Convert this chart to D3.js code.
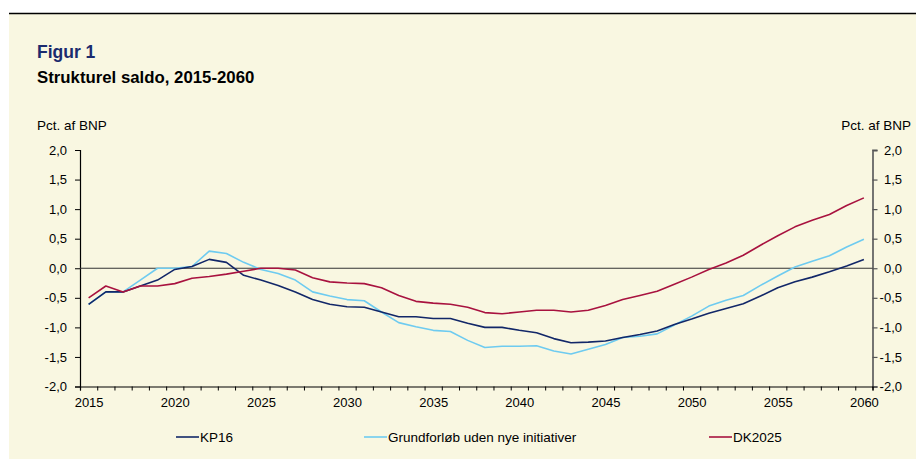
<!DOCTYPE html>
<html>
<head>
<meta charset="utf-8">
<script src="https://cdn.jsdelivr.net/npm/d3@7"></script>
<style>
  html, body { margin: 0; padding: 0; background: #ffffff; }
  svg { display: block; font-family: "Liberation Sans", Arial, sans-serif; }
</style>
</head>
<body>
<svg id="chart" width="916" height="459"></svg>
<script>
const years = d3.range(2015, 2061);
const seriesNames = ["KP16", "Grundforløb uden nye initiativer", "DK2025"];
const kp16 = [
  -0.61, -0.40, -0.40, -0.30, -0.20, -0.02, 0.03, 0.15, 0.10, -0.12,
  -0.20, -0.29, -0.40, -0.53, -0.61, -0.65, -0.66, -0.74, -0.82, -0.82,
  -0.85, -0.85, -0.93, -1.00, -1.00, -1.05, -1.09, -1.19, -1.26, -1.25,
  -1.23, -1.17, -1.12, -1.06, -0.95, -0.86, -0.76, -0.68, -0.60, -0.47,
  -0.33, -0.23, -0.15, -0.06, 0.04, 0.15
];
const grundforloeb = [
  -0.61, -0.40, -0.40, -0.20, 0.00, 0.00, 0.03, 0.29, 0.25, 0.10,
  -0.02, -0.09, -0.20, -0.40, -0.47, -0.53, -0.55, -0.74, -0.92, -0.99,
  -1.05, -1.07, -1.22, -1.34, -1.32, -1.32, -1.31, -1.40, -1.45, -1.37,
  -1.29, -1.17, -1.15, -1.11, -0.96, -0.81, -0.64, -0.54, -0.46, -0.29,
  -0.13, 0.02, 0.12, 0.21, 0.36, 0.49
];
const dk2025 = [
  -0.50, -0.30, -0.40, -0.30, -0.30, -0.26, -0.17, -0.14, -0.10, -0.05,
  0.00, 0.00, -0.03, -0.16, -0.23, -0.25, -0.26, -0.33, -0.46, -0.56,
  -0.59, -0.61, -0.66, -0.75, -0.77, -0.74, -0.71, -0.71, -0.74, -0.71,
  -0.63, -0.53, -0.46, -0.39, -0.27, -0.15, -0.02, 0.09, 0.22, 0.39,
  0.55, 0.70, 0.81, 0.91, 1.06, 1.19
];
const yTicks = [-2, -1.5, -1, -0.5, 0, 0.5, 1, 1.5, 2];
const xLabelYears = [2015, 2020, 2025, 2030, 2035, 2040, 2045, 2050, 2055, 2060];
const titleText = "Figur 1";
const subtitleText = "Strukturel saldo, 2015-2060";
const unitText = "Pct. af BNP";

const colors = ["#122768", "#6ECBF0", "#A8123F"];
const allSeries = [kp16, grundforloeb, dk2025];
const drawOrder = [1, 0, 2];

const svg = d3.select("#chart");
const W = 916, H = 459;
const plotLeft = 80, plotRight = 872.5, plotTop = 150, plotBottom = 386.5;

// background
svg.append("rect").attr("x", 0).attr("y", 0).attr("width", W).attr("height", H).attr("fill", "#ffffff");
svg.append("rect").attr("x", 9).attr("y", 14).attr("width", W - 9).attr("height", H - 14).attr("fill", "#F9F7E1");
svg.append("line").attr("x1", 9).attr("x2", W).attr("y1", 13.5).attr("y2", 13.5)
  .attr("stroke", "#000").attr("stroke-width", 1.4);

// titles
svg.append("text").attr("x", 37).attr("y", 58).text(titleText)
  .attr("font-size", 17.5).attr("font-weight", "bold").attr("fill", "#1B2B6E");
svg.append("text").attr("x", 37).attr("y", 83).text(subtitleText)
  .attr("font-size", 16.8).attr("font-weight", "bold").attr("fill", "#000");
svg.append("text").attr("x", 37).attr("y", 130).text(unitText)
  .attr("font-size", 13.5).attr("fill", "#000");
svg.append("text").attr("x", 911).attr("y", 130).attr("text-anchor", "end").text(unitText)
  .attr("font-size", 13.5).attr("fill", "#000");

const x = d3.scaleLinear().domain([years[0] - 0.5, years[years.length - 1] + 0.5]).range([plotLeft, plotRight]);
const y = d3.scaleLinear().domain([-2, 2]).range([plotBottom, plotTop]);

const loc = d3.formatLocale({decimal: ",", thousands: ".", grouping: [3], currency: ["", " kr."], minus: "-"});
const fmt = loc.format(".1f");

// left axis
const gL = svg.append("g").attr("transform", `translate(${plotLeft},0)`)
  .call(d3.axisLeft(y).tickValues(yTicks).tickFormat(fmt).tickSize(5).tickPadding(8));
gL.select(".domain").attr("stroke", "#000").attr("stroke-width", 1.2);
gL.selectAll(".tick line").attr("stroke", "#000");
gL.selectAll(".tick text").attr("font-size", 13).attr("fill", "#000")
  .attr("font-family", "Liberation Sans, Arial, sans-serif");

// right axis
const gR = svg.append("g").attr("transform", `translate(${plotRight},0)`)
  .call(d3.axisRight(y).tickValues(yTicks).tickFormat(fmt).tickSize(5).tickPadding(8));
gR.select(".domain").attr("stroke", "#666").attr("stroke-width", 1.8);
gR.selectAll(".tick line").attr("stroke", "#555").attr("stroke-width", 1.2);
gR.selectAll(".tick text").attr("font-size", 13).attr("fill", "#000")
  .attr("text-anchor", "end").attr("x", 29.5)
  .attr("font-family", "Liberation Sans, Arial, sans-serif");

// zero line
svg.append("line").attr("x1", plotLeft).attr("x2", plotRight).attr("y1", y(0)).attr("y2", y(0))
  .attr("stroke", "#333").attr("stroke-width", 1.2);

// bottom axis: ticks at category boundaries
const boundaries = d3.range(years[0] - 0.5, years[years.length - 1] + 1, 1);
const gB = svg.append("g").attr("transform", `translate(0,${plotBottom})`)
  .call(d3.axisBottom(x).tickValues(boundaries).tickFormat("").tickSize(4));
gB.select(".domain").attr("stroke", "#000").attr("stroke-width", 1.2);
gB.selectAll(".tick line").attr("stroke", "#000");
const gB2 = svg.append("g").attr("transform", `translate(0,${plotBottom})`)
  .call(d3.axisBottom(x).tickValues(xLabelYears).tickFormat(d3.format("d")).tickSize(0).tickPadding(11));
gB2.select(".domain").remove();
gB2.selectAll(".tick text").attr("font-size", 13).attr("fill", "#000")
  .attr("font-family", "Liberation Sans, Arial, sans-serif");

// lines
const line = d3.line().x((d, i) => x(years[i])).y(d => y(d));
drawOrder.forEach(k => {
  svg.append("path").datum(allSeries[k]).attr("d", line)
    .attr("fill", "none").attr("stroke", colors[k]).attr("stroke-width", 1.6)
    .attr("stroke-linejoin", "round");
});

// legend
const legendX = [176, 364, 709];
const legendY = 437;
seriesNames.forEach((name, k) => {
  svg.append("line").attr("x1", legendX[k]).attr("x2", legendX[k] + 23)
    .attr("y1", legendY).attr("y2", legendY)
    .attr("stroke", colors[k]).attr("stroke-width", 1.6);
  svg.append("text").attr("x", legendX[k] + 24).attr("y", legendY + 4.7)
    .text(name).attr("font-size", 13.5).attr("fill", "#000");
});
</script>
</body>
</html>
